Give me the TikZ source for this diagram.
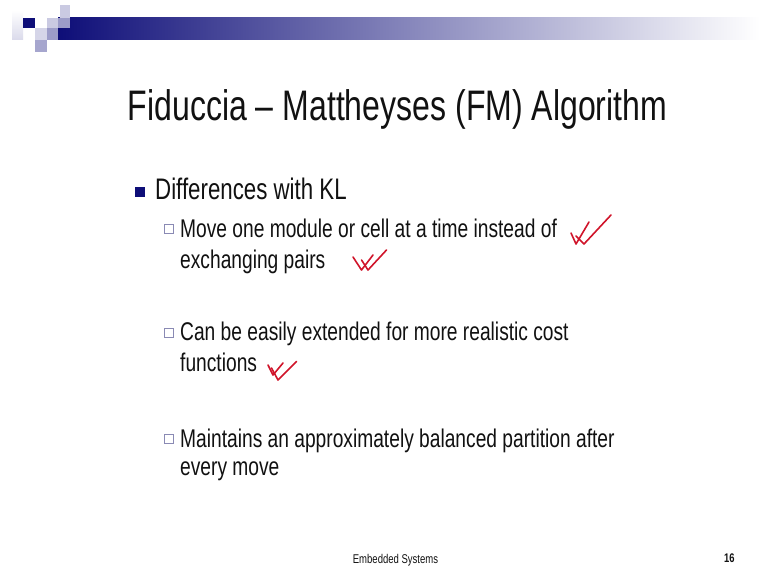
\documentclass[tikz,border=0pt]{standalone}
\usepackage{fontspec}
\setmainfont[FakeStretch=0.75]{Liberation Sans}
\definecolor{navy}{HTML}{0E0E78}
\definecolor{lightlav}{HTML}{CACAE2}
\definecolor{midlav}{HTML}{9C9CC8}
\definecolor{boxline}{HTML}{8A8AB4}
\definecolor{inkred}{HTML}{D0142A}
\definecolor{txt}{HTML}{111111}
\tikzset{
  txtnode/.style={anchor=base west,inner sep=0pt,text=txt},
  subbox/.style={draw=boxline,line width=0.8pt,fill=white},
  tick/.style={draw=inkred,line width=1.6pt,line cap=round,line join=round},
  subfont/.style={font=\fontsize{25.6}{25.6}\selectfont},
}
\begin{document}
\begin{tikzpicture}[x=1pt,y=-1pt]
\useasboundingbox (0,0) rectangle (767,575);
\fill[white] (0,0) rectangle (767,575);
% header decoration
\shade[left color=navy,right color=white] (58,18) rectangle (760,40);
\shade[top color=white,bottom color=lightlav!70] (12,10) rectangle (23,40);
\fill[navy] (23,18) rectangle (35,28);
\fill[lightlav] (60,5) rectangle (70,18);
\fill[lightlav] (47,18) rectangle (58,28);
\fill[midlav] (58,18) rectangle (70,28);
\fill[lightlav!80] (35,28) rectangle (47,40);
\fill[midlav] (47,28) rectangle (58,40);
\fill[midlav!90] (35,40) rectangle (47,52);
% title
\node[anchor=base,inner sep=0pt,text=txt,font=\fontsize{42.7}{42.7}\selectfont] (title) at (397.5,121) {Fiduccia – Mattheyses (FM) Algorithm};
% level 1
\fill[navy] (135,187) rectangle (145,197);
\node[txtnode,font=\fontsize{29.7}{29.7}\selectfont] (l1) at (155,199) {Differences with KL};
% sub bullets
\draw[subbox] (164.5,224.5) rectangle (173.5,233.5);
\node[txtnode,subfont] (s1a) at (180,237) {Move one module or cell at a time instead of};
\node[txtnode,subfont] (s1b) at (180,268) {exchanging pairs};
\draw[subbox] (164.5,328.5) rectangle (173.5,337.5);
\node[txtnode,subfont] (s2a) at (180,340.5) {Can be easily extended for more realistic cost};
\node[txtnode,subfont] (s2b) at (180,371.5) {functions};
\draw[subbox] (164.5,434.5) rectangle (173.5,443.5);
\node[txtnode,subfont] (s3a) at (180,447) {Maintains an approximately balanced partition after};
\node[txtnode,subfont] (s3b) at (180,475) {every move};
% red checks
\draw[tick] (571,233) -- (576,244) -- (589,222);
\draw[tick] (576,236) -- (584,244) -- (611,215);
\draw[tick] (353,257) -- (361.5,270) -- (373,255);
\draw[tick] (361.5,260) -- (368,270) -- (386.5,250);
\draw[tick] (268,365) -- (273,375) -- (283,363);
\draw[tick] (271.5,368) -- (278,380) -- (296.5,361.5);
% footer
\node[anchor=base,inner sep=0pt,text=txt,font=\fontsize{12.7}{12.7}\selectfont] (foot) at (395.5,563) {Embedded Systems};
\node[anchor=base west,inner sep=0pt,text=txt,font=\fontsize{12.5}{12.5}\selectfont\bfseries] (page) at (724,562.5) {16};
\end{tikzpicture}
\end{document}
